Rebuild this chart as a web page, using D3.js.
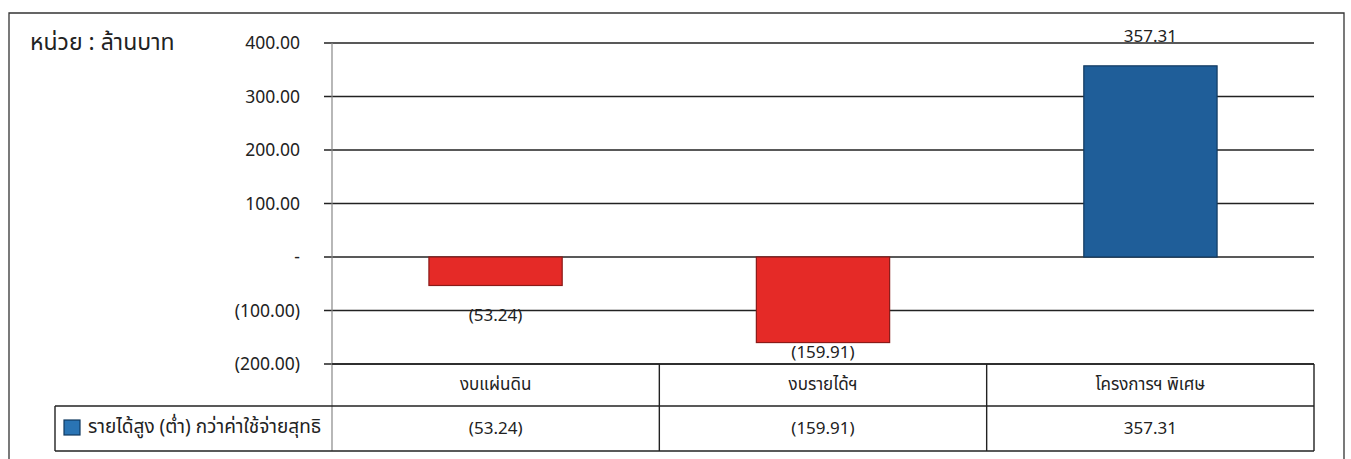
<!DOCTYPE html>
<html><head><meta charset="utf-8">
<script src="https://cdn.jsdelivr.net/npm/d3@7"></script>
<style>
html,body{margin:0;padding:0;background:#fff;}
svg{display:block;}
text{font-family:Tahoma,"Noto Sans Thai","Noto Sans","DejaVu Sans",sans-serif;fill:#222;}
</style></head>
<body><svg id="c" width="1351" height="459"></svg>
<script>
const categories = ["งบแผ่นดิน", "งบรายได้ฯ", "โครงการฯ พิเศษ"];
const values = [-53.24, -159.91, 357.31];
const valueLabels = ["(53.24)", "(159.91)", "357.31"];
const tickValues = [400, 300, 200, 100, 0, -100, -200];
const tickLabels = ["400.00", "300.00", "200.00", "100.00", "-", "(100.00)", "(200.00)"];
const seriesName = "รายได้สูง (ต่ำ) กว่าค่าใช้จ่ายสุทธิ";
const unitLabel = "หน่วย : ล้านบาท";

(function(){
const svg = d3.select("#c");
const pL = 332, pR = 1314, pT = 43, pB = 364;
const x = d3.scaleBand().domain(categories).range([pL, pR]).paddingInner(0.593).paddingOuter(0.296);
const xCol = d3.scaleBand().domain(categories).range([pL, pR]);
const y = d3.scaleLinear().domain([-200, 400]).range([pB, pT]);

// outer border
svg.append("path").attr("d", `M9,459 L9,13 L1344,13 L1344,459`).attr("fill","none").attr("stroke","#333").attr("stroke-width",1.3);

// unit label
svg.append("text").attr("x", 30).attr("y", 50).attr("font-size", 23).text(unitLabel);

// gridlines
svg.append("g").selectAll("line").data(tickValues).join("line")
  .attr("x1", 324).attr("x2", pR).attr("y1", d => y(d)).attr("y2", d => y(d))
  .attr("stroke", "#222").attr("stroke-width", 1.4);

// y axis
const yAxis = d3.axisLeft(y).tickValues(tickValues).tickFormat((d,i) => tickLabels[i]).tickSize(0).tickPadding(32);
const ga = svg.append("g").attr("transform", `translate(${pL},0)`).call(yAxis);
ga.select(".domain").remove();
ga.selectAll("text").attr("font-size", 17.5).attr("fill", "#333").style("font-family", "Tahoma,'Noto Sans',sans-serif");
svg.append("line").attr("x1", pL).attr("x2", pL).attr("y1", pT).attr("y2", 451).attr("stroke", "#888").attr("stroke-width", 1.2);

// bars
svg.append("g").selectAll("rect").data(values).join("rect")
  .attr("x", (d,i) => x(categories[i]))
  .attr("width", x.bandwidth())
  .attr("y", d => y(Math.max(0, d)))
  .attr("height", d => Math.abs(y(d) - y(0)))
  .attr("fill", d => d < 0 ? "#e52a27" : "#1f5e99")
  .attr("stroke", d => d < 0 ? "#8a1a18" : "#123a60").attr("stroke-width", 1.2);

// value labels
svg.append("g").selectAll("text").data(values).join("text")
  .attr("x", (d,i) => x(categories[i]) + x.bandwidth()/2)
  .attr("y", (d,i) => d < 0 ? y(d) + (i===1 ? 15 : 36) : y(400) - 1)
  .attr("text-anchor", "middle").attr("font-size", 17)
  .text((d,i) => valueLabels[i]);

// data table
const rowTop = 364, rowMid = 406, rowBot = 451;
const tbl = svg.append("g").attr("stroke", "#222").attr("stroke-width", 1.4);
tbl.append("line").attr("x1", pL).attr("x2", pR).attr("y1", rowTop).attr("y2", rowTop);
tbl.append("line").attr("x1", 55).attr("x2", pR).attr("y1", rowMid).attr("y2", rowMid);
tbl.append("line").attr("x1", 55).attr("x2", pR).attr("y1", rowBot).attr("y2", rowBot);
tbl.append("line").attr("x1", 55).attr("x2", 55).attr("y1", rowMid).attr("y2", rowBot);
tbl.append("line").attr("x1", pR).attr("x2", pR).attr("y1", rowTop).attr("y2", rowBot);
tbl.selectAll("line.sep").data(categories.slice(1)).join("line").attr("class","sep")
  .attr("x1", d => xCol(d)).attr("x2", d => xCol(d)).attr("y1", rowTop).attr("y2", rowBot);

svg.append("g").selectAll("text").data(categories).join("text")
  .attr("x", d => xCol(d) + xCol.bandwidth()/2).attr("y", 390)
  .attr("text-anchor", "middle").attr("font-size", 17).text(d => d);
svg.append("g").selectAll("text").data(valueLabels).join("text")
  .attr("x", (d,i) => xCol(categories[i]) + xCol.bandwidth()/2).attr("y", 434)
  .attr("text-anchor", "middle").attr("font-size", 17).text(d => d);

// legend
svg.append("rect").attr("x", 64).attr("y", 420).attr("width", 16).attr("height", 15)
  .attr("fill", "#2a74b4").attr("stroke", "#123a60").attr("stroke-width", 1.2);
svg.append("text").attr("x", 88).attr("y", 433).attr("font-size", 19).text(seriesName);
})();
</script></body></html>
